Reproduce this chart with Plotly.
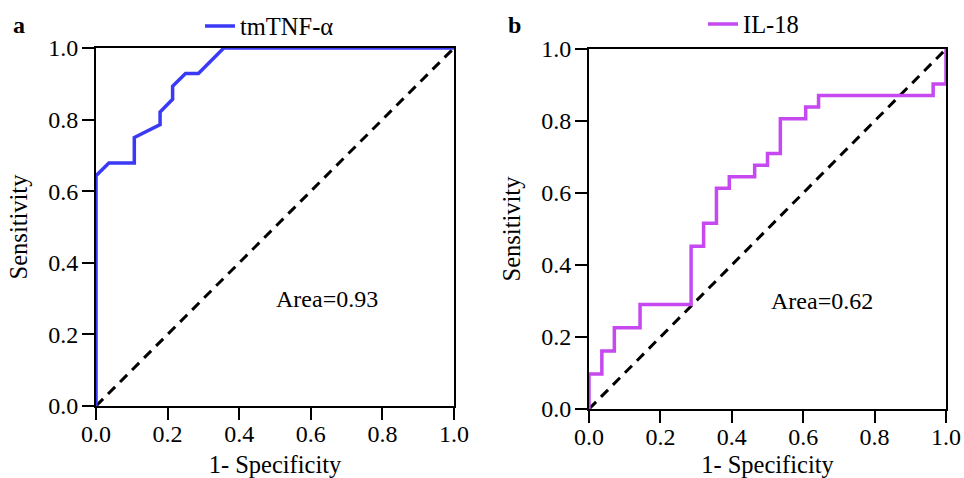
import plotly.graph_objects as go

# ROC curve for tmTNF-alpha (panel a)
tnf_fpr = [0.0, 0.0, 0.036, 0.107, 0.107, 0.179, 0.179, 0.214, 0.214, 0.250, 0.286, 0.357, 1.0]
tnf_tpr = [0.0, 0.643, 0.679, 0.679, 0.750, 0.786, 0.821, 0.857, 0.893, 0.929, 0.929, 1.0, 1.0]

# ROC curve for IL-18 (panel b), step shaped
il18_fpr = [0.0, 0.0, 0.036, 0.036, 0.071, 0.071, 0.143, 0.143, 0.286, 0.286, 0.321, 0.321,
            0.357, 0.357, 0.393, 0.393, 0.464, 0.464, 0.500, 0.500, 0.536, 0.536, 0.607,
            0.607, 0.643, 0.643, 0.964, 0.964, 1.0, 1.0]
il18_tpr = [0.0, 0.097, 0.097, 0.161, 0.161, 0.226, 0.226, 0.290, 0.290, 0.452, 0.452, 0.516,
            0.516, 0.613, 0.613, 0.645, 0.645, 0.677, 0.677, 0.710, 0.710, 0.806, 0.806,
            0.839, 0.839, 0.871, 0.871, 0.903, 0.903, 1.0]

ref_line = [0.0, 1.0]
tick_vals = [0.0, 0.2, 0.4, 0.6, 0.8, 1.0]
tick_text = ["0.0", "0.2", "0.4", "0.6", "0.8", "1.0"]
auc_labels = ["Area=0.93", "Area=0.62"]
names = ["tmTNF-α", "IL-18"]
colors = ["#3a3af6", "#c548f0"]

FONT = "Liberation Serif"
TICK_SIZE = 24
TITLE_SIZE = 24.5
TEXT_SIZE = 24

fig = go.Figure()

fig.add_trace(go.Scatter(x=ref_line, y=ref_line, mode="lines", showlegend=False,
                         line=dict(color="black", width=3, dash="10px,7px"),
                         xaxis="x", yaxis="y"))
fig.add_trace(go.Scatter(x=tnf_fpr, y=tnf_tpr, mode="lines", name=names[0],
                         line=dict(color=colors[0], width=3.5), legend="legend",
                         xaxis="x", yaxis="y"))

fig.add_trace(go.Scatter(x=ref_line, y=ref_line, mode="lines", showlegend=False,
                         line=dict(color="black", width=3, dash="10px,7px"),
                         xaxis="x2", yaxis="y2"))
fig.add_trace(go.Scatter(x=il18_fpr, y=il18_tpr, mode="lines", name=names[1],
                         line=dict(color=colors[1], width=3.5), legend="legend2",
                         xaxis="x2", yaxis="y2"))

axis_common = dict(
    range=[0, 1], tickvals=tick_vals, ticktext=tick_text,
    showgrid=False, zeroline=False, showline=True, mirror=True,
    linecolor="black", linewidth=2, ticks="outside", ticklen=12,
    tickwidth=2, tickcolor="black", automargin=False,
    tickfont=dict(family=FONT, size=TICK_SIZE, color="black"),
    layer="below traces",
)


def x_axis(domain, anchor):
    return dict(domain=domain, anchor=anchor, ticklabelstandoff=-7,
                title=dict(text="1- Specificity", standoff=10,
                           font=dict(family=FONT, size=TITLE_SIZE, color="black")),
                **axis_common)


def y_axis(domain, anchor):
    return dict(domain=domain, anchor=anchor, ticklabelstandoff=-1,
                title=dict(text="Sensitivity", standoff=14,
                           font=dict(family=FONT, size=TITLE_SIZE, color="black")),
                **axis_common)


def legend_box(x, y):
    return dict(x=x, y=y, xanchor="left", yanchor="middle", orientation="h",
                bgcolor="rgba(0,0,0,0)",
                font=dict(family=FONT, size=TITLE_SIZE, color="black"))


fig.update_layout(
    width=964, height=478,
    margin=dict(l=0, r=0, t=0, b=0, autoexpand=False),
    paper_bgcolor="white", plot_bgcolor="white",
    font=dict(family=FONT, color="black", size=TEXT_SIZE),
    xaxis=x_axis([96 / 964, 454 / 964], "y"),
    yaxis=y_axis([72 / 478, 430 / 478], "x"),
    xaxis2=x_axis([589 / 964, 946 / 964], "y2"),
    yaxis2=y_axis([69 / 478, 429 / 478], "x2"),
    legend=legend_box(200 / 964, 1 - 26 / 478),
    legend2=legend_box(703 / 964, 1 - 24 / 478),
    annotations=[
        dict(text=auc_labels[0], x=0.645, y=0.30, xref="x", yref="y", showarrow=False,
             font=dict(family=FONT, size=TEXT_SIZE, color="black")),
        dict(text=auc_labels[1], x=0.653, y=0.30, xref="x2", yref="y2", showarrow=False,
             font=dict(family=FONT, size=TEXT_SIZE, color="black")),
        dict(text="<b>a</b>", x=19 / 964, y=1 - 25 / 478, xref="paper", yref="paper",
             xanchor="center", yanchor="middle", showarrow=False,
             font=dict(family=FONT, size=TEXT_SIZE, color="black")),
        dict(text="<b>b</b>", x=514 / 964, y=1 - 25 / 478, xref="paper", yref="paper",
             xanchor="center", yanchor="middle", showarrow=False,
             font=dict(family=FONT, size=TEXT_SIZE, color="black")),
    ],
)

fig.write_html("out.html")
